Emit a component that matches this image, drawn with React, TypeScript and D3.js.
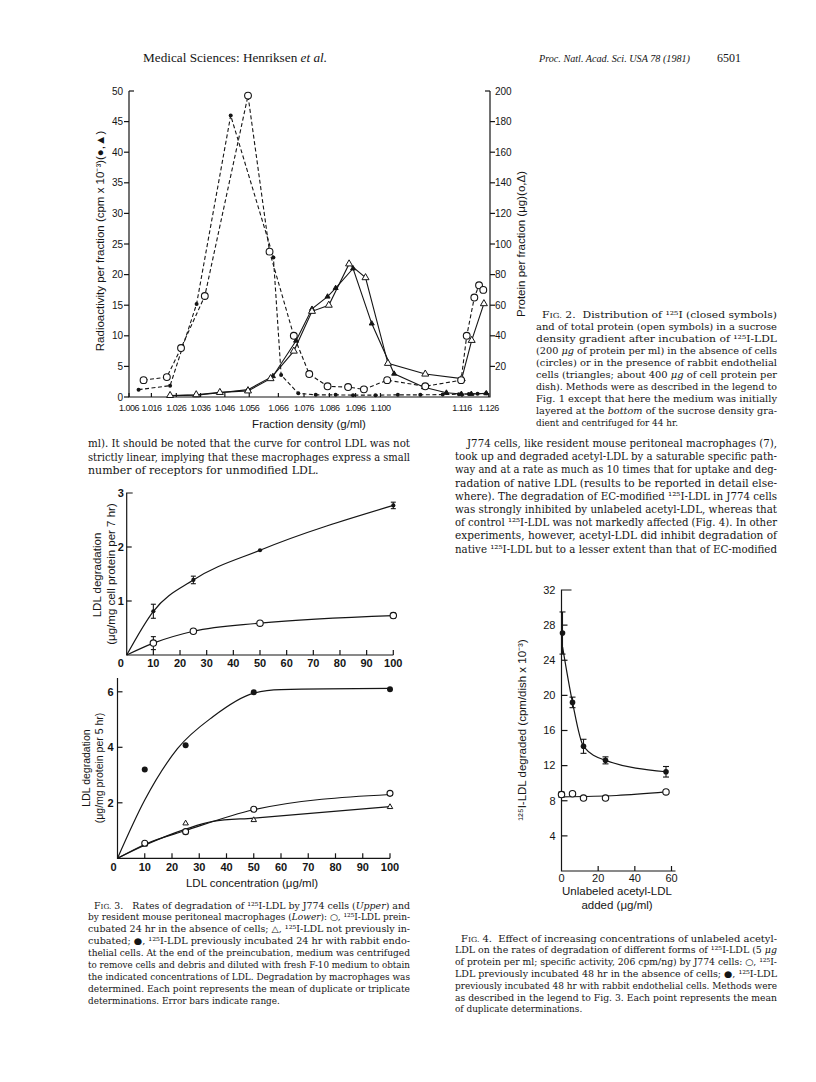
import React from 'react'
import * as d3 from 'd3'

const SANS = 'Liberation Sans, Arial, sans-serif'
const SERIF = 'Liberation Serif, Times New Roman, serif'
const BOOK = 'DejaVu Serif, serif'
const INK = '#151515'

// ---------- Fig. 2 : sucrose density gradient ----------
// x is the fraction position along the gradient, density labels sit at given fractions
const densityLabels = ['1.006', '1.016', '1.026', '1.036', '1.046', '1.056', '1.066', '1.076', '1.086', '1.096', '1.100', '1.116', '1.126']
const densityLabelFrac = [0, 1.8, 3.8, 5.75, 7.7, 9.66, 12.0, 14.06, 16.1, 18.2, 20.2, 26.75, 28.9]
const radioTicks = [0, 5, 10, 15, 20, 25, 30, 35, 40, 45, 50]
const proteinTicks = [20, 40, 60, 80, 100, 120, 140, 160, 180, 200]

// no cells (circles)
const ctrlProteinFrac = [1.17, 3.04, 4.18, 6.09, 9.56, 11.29, 13.24, 14.48, 15.95, 17.6, 18.87, 20.74, 23.8, 26.68, 27.13, 27.74, 28.12, 28.46]
const ctrlProtein = [11, 13, 32, 66, 197, 95, 40, 15, 7, 6.5, 5, 11, 7, 11, 40, 65, 73, 70]
const ctrlRadioFrac = [0.77, 3.3, 5.43, 8.17, 11.6, 12.22, 13.6, 15.0, 16.6, 18.0, 19.8, 21.6, 23.4, 25.2, 26.5, 27.3, 28.0, 28.7]
const ctrlRadio = [1.2, 1.85, 15.2, 46, 22.8, 3.6, 0.6, 0.35, 0.35, 0.3, 0.3, 0.35, 0.35, 0.4, 0.45, 0.5, 0.55, 0.6]
// with endothelial cells (triangles)
const ecRadioFrac = [3.3, 5.4, 7.3, 9.56, 11.56, 13.42, 14.7, 15.95, 16.6, 18.0, 19.5, 21.3, 23.7, 25.5, 26.7, 27.5, 28.7]
const ecRadio = [0.2, 0.3, 0.7, 1.2, 3.4, 9.2, 14.4, 16.4, 17.8, 21.0, 12.0, 3.8, 1.6, 0.7, 0.5, 0.5, 0.6]
const ecProteinFrac = [3.3, 5.4, 7.3, 9.56, 11.37, 13.24, 14.7, 16.05, 17.68, 19.0, 20.8, 23.8, 26.73, 27.53, 28.51]
const ecProtein = [1, 1.5, 3, 4, 12, 30, 56, 60, 87, 78, 22, 15, 12, 37, 61]

// ---------- Fig. 3 ----------
const concTicks = [0, 10, 20, 30, 40, 50, 60, 70, 80, 90, 100]
const upperYTicks = [1, 2, 3]
const lowerYTicks = [2, 4, 6]
const upperConc = [10, 25, 50, 100]
const upperEC = [0.81, 1.39, 1.94, 2.77]
const upperECErr = [0.13, 0.07, 0, 0.06]
const upperCtrl = [0.22, 0.44, 0.59, 0.73]
const upperCtrlErr = [0.12, 0.04, 0, 0.05]
const lowerConc = [10, 25, 50, 100]
const lowerEC = [3.2, 4.07, 5.98, 6.09]
const lowerCtrl = [0.54, 0.96, 1.77, 2.34]
const lowerFresh = [0.5, 1.26, 1.38, 1.85]
// fitted curves as drawn in the figure
const lowerECFitX = [0, 10, 22, 35, 50, 60, 100]
const lowerECFitY = [0, 2.1, 3.95, 5.1, 5.95, 6.08, 6.12]
const lowerCtrlFitX = [0, 10, 25, 50, 100]
const lowerCtrlFitY = [0, 0.5, 1.0, 1.75, 2.3]
const lowerFreshFitX = [0, 10, 25, 35, 50, 100]
const lowerFreshFitY = [0, 0.47, 1.05, 1.33, 1.45, 1.86]

// ---------- Fig. 4 ----------
const acetylTicks = [0, 20, 40, 60]
const degradedTicks = [4, 8, 12, 16, 20, 24, 28, 32]
const acetylConc = [0, 6, 12, 24, 57]
const fig4EC = [27.1, 19.2, 14.2, 12.6, 11.3]
const fig4ECErr = [2.4, 0.6, 0.8, 0.4, 0.6]
const fig4Ctrl = [8.7, 8.8, 8.3, 8.3, 9.0]
const fig4CtrlErr = [0.3, 0, 0, 0, 0]
const fig4ECFitX = [0.6, 6, 12, 24, 57]
const fig4ECFitY = [25.5, 19.2, 14.2, 12.6, 11.3]
const fig4CtrlFitX = [0, 30, 57]
const fig4CtrlFitY = [8.45, 8.6, 9.0]

// ---------- text ----------
const fig2Caption = [
  'FIG. 2.  Distribution of ¹²⁵I (closed symbols)',
  'and of total protein (open symbols) in a sucrose',
  'density gradient after incubation of ¹²⁵I-LDL',
  '(200 _μg_ of protein per ml) in the absence of cells',
  '(circles) or in the presence of rabbit endothelial',
  'cells (triangles; about 400 _μg_ of cell protein per',
  'dish). Methods were as described in the legend to',
  'Fig. 1 except that here the medium was initially',
  'layered at the _bottom_ of the sucrose density gra-',
  'dient and centrifuged for 44 hr.',
]
const leftBody = [
  'ml). It should be noted that the curve for control LDL was not',
  'strictly linear, implying that these macrophages express a small',
  'number of receptors for unmodified LDL.',
]
const rightBody = [
  'J774 cells, like resident mouse peritoneal macrophages (7),',
  'took up and degraded acetyl-LDL by a saturable specific path-',
  'way and at a rate as much as 10 times that for uptake and deg-',
  'radation of native LDL (results to be reported in detail else-',
  'where). The degradation of EC-modified ¹²⁵I-LDL in J774 cells',
  'was strongly inhibited by unlabeled acetyl-LDL, whereas that',
  'of control ¹²⁵I-LDL was not markedly affected (Fig. 4). In other',
  'experiments, however, acetyl-LDL did inhibit degradation of',
  'native ¹²⁵I-LDL but to a lesser extent than that of EC-modified',
]
const fig3Caption = [
  'FIG. 3.   Rates of degradation of ¹²⁵I-LDL by J774 cells (_Upper_) and',
  'by resident mouse peritoneal macrophages (_Lower_): ○, ¹²⁵I-LDL prein-',
  'cubated 24 hr in the absence of cells; △, ¹²⁵I-LDL not previously in-',
  'cubated; ●, ¹²⁵I-LDL previously incubated 24 hr with rabbit endo-',
  'thelial cells. At the end of the preincubation, medium was centrifuged',
  'to remove cells and debris and diluted with fresh F-10 medium to obtain',
  'the indicated concentrations of LDL. Degradation by macrophages was',
  'determined. Each point represents the mean of duplicate or triplicate',
  'determinations. Error bars indicate range.',
]
const fig4Caption = [
  'FIG. 4.  Effect of increasing concentrations of unlabeled acetyl-',
  'LDL on the rates of degradation of different forms of ¹²⁵I-LDL (5 _μg_',
  'of protein per ml; specific activity, 206 cpm/ng) by J774 cells: ○, ¹²⁵I-',
  'LDL previously incubated 48 hr in the absence of cells; ●, ¹²⁵I-LDL',
  'previously incubated 48 hr with rabbit endothelial cells. Methods were',
  'as described in the legend to Fig. 3. Each point represents the mean',
  'of duplicate determinations.',
]

type Seg = { t: string; it?: boolean; sc?: boolean }
const parseLine = (s: string): Seg[] => {
  const out: Seg[] = []
  let rest = s
  if (rest.startsWith('FIG.')) {
    out.push({ t: 'F' })
    out.push({ t: 'IG.', sc: true })
    rest = rest.slice(4)
  }
  rest.split('_').forEach((p, i) => {
    if (p) out.push({ t: p, it: i % 2 === 1 })
  })
  return out
}

const TextBlock = ({ lines, x, y, width, lh, size, indent = 0, justifyLast = false }: {
  lines: string[]; x: number; y: number; width: number; lh: number; size: number; indent?: number; justifyLast?: boolean
}) => (
  <g fontFamily={BOOK} fontSize={size} fill={INK}>
    {lines.map((ln, i) => {
      const last = i === lines.length - 1 && !justifyLast
      const ind = i === 0 ? indent : 0
      return (
        <text key={i} x={x + ind} y={y + i * lh} textLength={last ? undefined : width - ind}
          lengthAdjust="spacingAndGlyphs" style={{ whiteSpace: 'pre' }}>
          {parseLine(ln).map((s, j) => (
            <tspan key={j} fontStyle={s.it ? 'italic' : undefined} fontSize={s.sc ? size * 0.78 : undefined}>{s.t}</tspan>
          ))}
        </text>
      )
    })}
  </g>
)

// markers
const Dot = ({ x, y, r = 2.2 }: { x: number; y: number; r?: number }) => <circle cx={x} cy={y} r={r} fill={INK} stroke="none" />
const Ring = ({ x, y, r = 3.5 }: { x: number; y: number; r?: number }) => <circle cx={x} cy={y} r={r} fill="#fff" stroke={INK} strokeWidth={1.1} />
const Tri = ({ x, y, s = 6, filled = false }: { x: number; y: number; s?: number; filled?: boolean }) => (
  <path d={`M${x},${y - s * 0.58}L${x - s / 2},${y + s * 0.29}L${x + s / 2},${y + s * 0.29}Z`}
    fill={filled ? INK : '#fff'} stroke={INK} strokeWidth={1} />
)
const ErrBar = ({ x, y0, y1, w = 6 }: { x: number; y0: number; y1: number; w?: number }) => (
  <g stroke={INK} strokeWidth={1.1}>
    <line x1={x} x2={x} y1={y0} y2={y1} />
    <line x1={x - w / 2} x2={x + w / 2} y1={y0} y2={y0} />
    <line x1={x - w / 2} x2={x + w / 2} y1={y1} y2={y1} />
  </g>
)

const Header = () => (
  <g fontFamily={SERIF} fontSize={11.5} fill={INK} style={{ whiteSpace: 'pre' }}>
    <text x={143} y={62} textLength={184} lengthAdjust="spacingAndGlyphs">
      Medical Sciences:  Henriksen <tspan fontStyle="italic">et al.</tspan>
    </text>
    <text x={539} y={62} fontSize={10.5} fontStyle="italic" textLength={151} lengthAdjust="spacingAndGlyphs">Proc. Natl. Acad. Sci. USA 78 (1981)</text>
    <text x={717} y={62} textLength={24} lengthAdjust="spacingAndGlyphs">6501</text>
  </g>
)

function Fig2() {
  const left = 129, right = 490, top = 91, bottom = 397
  const x = d3.scaleLinear().domain([0, 29]).range([left, right])
  const yL = d3.scaleLinear().domain([0, 50]).range([bottom, top])
  const yR = d3.scaleLinear().domain([0, 200]).range([bottom, top])
  const path = (xs: number[], ys: number[], y: d3.ScaleLinear<number, number>) =>
    d3.line<number>().x((_, i) => x(xs[i])).y((d) => y(d))(ys) || ''
  return (
    <g>
      <g stroke={INK} strokeWidth={1.2} fill="none">
        <path d={`M${left},${top}V${bottom}H${right}V${top}`} />
        {radioTicks.map((t) => (t === 50
          ? <line key={t} x1={left} x2={left + 5} y1={yL(t)} y2={yL(t)} />
          : <line key={t} x1={left - 5} x2={left} y1={yL(t)} y2={yL(t)} />))}
        {proteinTicks.map((t) => (t === 200
          ? <line key={t} x1={right - 5} x2={right} y1={yR(t)} y2={yR(t)} />
          : <line key={t} x1={right} x2={right + 5} y1={yR(t)} y2={yR(t)} />))}
        {densityLabelFrac.map((f, i) => <line key={i} x1={x(f)} x2={x(f)} y1={bottom} y2={bottom - 4} />)}
      </g>
      <g fill="none" stroke={INK} strokeWidth={1.1}>
        <path d={path(ctrlRadioFrac, ctrlRadio, yL)} strokeDasharray="4 2.5" />
        <path d={path(ctrlProteinFrac, ctrlProtein, yR)} strokeDasharray="4 2.5" />
        <path d={path(ecRadioFrac, ecRadio, yL)} />
        <path d={path(ecProteinFrac, ecProtein, yR)} />
      </g>
      {ctrlRadio.map((v, i) => <Dot key={'cr' + i} x={x(ctrlRadioFrac[i])} y={yL(v)} r={2} />)}
      {ecRadio.map((v, i) => <Tri key={'er' + i} x={x(ecRadioFrac[i])} y={yL(v)} s={5} filled />)}
      {ecProtein.map((v, i) => <Tri key={'ep' + i} x={x(ecProteinFrac[i])} y={yR(v)} s={7} />)}
      {ctrlProtein.map((v, i) => <Ring key={'cp' + i} x={x(ctrlProteinFrac[i])} y={yR(v)} r={3.4} />)}
      <g fontFamily={SANS} fontSize={10} fill={INK}>
        {radioTicks.map((t) => <text key={t} x={left - 6} y={yL(t)} dy="0.35em" textAnchor="end">{t}</text>)}
        {proteinTicks.map((t) => <text key={t} x={right + 5} y={yR(t)} dy="0.35em">{t}</text>)}
        {densityLabels.map((l, i) => (
          <text key={l} x={x(densityLabelFrac[i])} y={410.5} textAnchor="middle" fontSize={9} letterSpacing={-0.5}>{l}</text>
        ))}
        <text x={309} y={427.5} textAnchor="middle" fontSize={11.5}>Fraction density (g/ml)</text>
        <text transform="translate(100,241) rotate(-90)" textAnchor="middle" dy="0.35em" fontSize={11.5}>
          Radioactivity per fraction (cpm x 10⁻³)(●,▲)
        </text>
        <text transform="translate(521,244) rotate(-90)" textAnchor="middle" dy="0.35em" fontSize={11.5}>
          Protein per fraction (μg)(o,Δ)
        </text>
      </g>
    </g>
  )
}

function Fig3() {
  const xU = d3.scaleLinear().domain([0, 100]).range([126.7, 393.3])
  const yU = d3.scaleLinear().domain([0, 3]).range([655, 493])
  const xL = d3.scaleLinear().domain([0, 100]).range([117.5, 390])
  const yLo = d3.scaleLinear().domain([0, 6]).range([858.3, 691.8])
  const curve = (xs: number[], ys: number[], x: any, y: any) =>
    d3.line<number>().x((_, i) => x(xs[i])).y((d) => y(d)).curve(d3.curveMonotoneX)(ys) || ''
  return (
    <g>
      {/* upper panel */}
      <g stroke={INK} strokeWidth={1.2} fill="none">
        <path d={`M${xU(0) + 6},${yU(3)}H${xU(0)}V${yU(0)}H${xU(100)}`} />
        {upperYTicks.slice(0, 2).map((t) => <line key={t} x1={xU(0)} x2={xU(0) + 5} y1={yU(t)} y2={yU(t)} />)}
        {concTicks.slice(1).map((t) => <line key={t} x1={xU(t)} x2={xU(t)} y1={yU(0)} y2={yU(0) - 5} />)}
        <path d={curve([0, ...upperConc], [0, ...upperEC], xU, yU)} />
        <path d={curve([0, ...upperConc], [0, ...upperCtrl], xU, yU)} />
      </g>
      {upperConc.map((c, i) => upperECErr[i] > 0 &&
        <ErrBar key={'ue' + i} x={xU(c)} y0={yU(upperEC[i] + upperECErr[i])} y1={yU(upperEC[i] - upperECErr[i])} w={5} />)}
      {upperConc.map((c, i) => upperCtrlErr[i] > 0 &&
        <ErrBar key={'uc' + i} x={xU(c)} y0={yU(upperCtrl[i] + upperCtrlErr[i])} y1={yU(upperCtrl[i] - upperCtrlErr[i])} w={5} />)}
      {upperConc.map((c, i) => <Dot key={'ud' + i} x={xU(c)} y={yU(upperEC[i])} r={2.1} />)}
      {upperConc.map((c, i) => <Ring key={'ur' + i} x={xU(c)} y={yU(upperCtrl[i])} r={3.2} />)}
      <g fontFamily={SANS} fontSize={11} fontWeight="bold" fill={INK}>
        {upperYTicks.map((t) => <text key={t} x={xU(0) - 6} y={yU(t)} dy="0.35em" textAnchor="middle">{t}</text>)}
        {concTicks.map((t) => <text key={t} x={t === 0 ? xU(0) - 6 : xU(t)} y={667} textAnchor="middle">{t}</text>)}
        <text transform="translate(97,575) rotate(-90)" textAnchor="middle" dy="0.35em" fontWeight="normal" fontSize={11.5}>LDL degradation</text>
        <text transform="translate(111,574) rotate(-90)" textAnchor="middle" dy="0.35em" fontWeight="normal" fontSize={11.5}>(μg/mg cell protein per 7 hr)</text>
      </g>

      {/* lower panel */}
      <g stroke={INK} strokeWidth={1.2} fill="none">
        <path d={`M${xL(0)},678V${yLo(0)}H${xL(100)}`} />
        {lowerYTicks.map((t) => <line key={t} x1={xL(0)} x2={xL(0) + 5} y1={yLo(t)} y2={yLo(t)} />)}
        {concTicks.slice(1).map((t) => <line key={t} x1={xL(t)} x2={xL(t)} y1={yLo(0)} y2={yLo(0) - 5} />)}
        <path d={curve(lowerECFitX, lowerECFitY, xL, yLo)} />
        <path d={curve(lowerCtrlFitX, lowerCtrlFitY, xL, yLo)} />
        <path d={curve(lowerFreshFitX, lowerFreshFitY, xL, yLo)} />
      </g>
      {lowerConc.map((c, i) => <Dot key={'ld' + i} x={xL(c)} y={yLo(lowerEC[i])} r={3} />)}
      {lowerConc.map((c, i) => <Tri key={'lt' + i} x={xL(c)} y={yLo(lowerFresh[i])} s={5.5} />)}
      {lowerConc.map((c, i) => <Ring key={'lr' + i} x={xL(c)} y={yLo(lowerCtrl[i])} r={3} />)}
      <g fontFamily={SANS} fontSize={11} fontWeight="bold" fill={INK}>
        {lowerYTicks.map((t) => <text key={t} x={xL(0) - 7} y={yLo(t)} dy="0.35em" textAnchor="middle">{t}</text>)}
        {concTicks.map((t) => <text key={t} x={t === 0 ? xL(0) - 4 : xL(t)} y={871} textAnchor="middle">{t}</text>)}
        <text x={252} y={887} textAnchor="middle" fontSize={11.5} fontWeight="normal">LDL concentration (μg/ml)</text>
        <text transform="translate(86,768) rotate(-90)" textAnchor="middle" dy="0.35em" fontWeight="normal" fontSize={10.5}>LDL degradation</text>
        <text transform="translate(99,768) rotate(-90)" textAnchor="middle" dy="0.35em" fontWeight="normal" fontSize={10.5}>(μg/mg protein per 5 hr)</text>
      </g>
    </g>
  )
}

function Fig4() {
  const x = d3.scaleLinear().domain([0, 60]).range([561.5, 671.5])
  const y = d3.scaleLinear().domain([0, 32]).range([871, 590])
  const curve = (xs: number[], ys: number[]) =>
    d3.line<number>().x((_, i) => x(xs[i])).y((d) => y(d)).curve(d3.curveMonotoneX)(ys) || ''
  return (
    <g>
      <g stroke={INK} strokeWidth={1.2} fill="none">
        <path d={`M${x(0) + 10},${y(32)}H${x(0)}V${y(0)}H${x(60) + 4}`} />
        {degradedTicks.slice(0, -1).map((t) => <line key={t} x1={x(0)} x2={x(0) + 6} y1={y(t)} y2={y(t)} />)}
        {acetylTicks.slice(1).map((t) => <line key={t} x1={x(t)} x2={x(t)} y1={y(0)} y2={y(0) - 5} />)}
        <path d={curve(fig4ECFitX, fig4ECFitY)} />
        <path d={curve(fig4CtrlFitX, fig4CtrlFitY)} />
      </g>
      {acetylConc.map((c, i) => fig4ECErr[i] > 0 &&
        <ErrBar key={'fe' + i} x={x(c) + (i === 0 ? 1 : 0)} y0={y(fig4EC[i] + fig4ECErr[i])} y1={y(fig4EC[i] - fig4ECErr[i])} w={6} />)}
      {acetylConc.map((c, i) => fig4CtrlErr[i] > 0 &&
        <ErrBar key={'fc' + i} x={x(c)} y0={y(fig4Ctrl[i] + fig4CtrlErr[i])} y1={y(fig4Ctrl[i] - fig4CtrlErr[i])} w={6} />)}
      {acetylConc.map((c, i) => <Dot key={'fd' + i} x={x(c) + (i === 0 ? 1 : 0)} y={y(fig4EC[i])} r={2.8} />)}
      {acetylConc.map((c, i) => <Ring key={'fr' + i} x={x(c)} y={y(fig4Ctrl[i])} r={3.2} />)}
      <g fontFamily={SANS} fontSize={11} fill={INK}>
        {degradedTicks.map((t) => <text key={t} x={x(0) - 6} y={y(t)} dy="0.35em" textAnchor="end">{t}</text>)}
        {acetylTicks.map((t) => <text key={t} x={x(t)} y={882} textAnchor="middle">{t}</text>)}
        <text x={617} y={895} textAnchor="middle" fontSize={11.5}>Unlabeled acetyl-LDL</text>
        <text x={617} y={909} textAnchor="middle" fontSize={11.5}>added (μg/ml)</text>
        <text transform="translate(522,730) rotate(-90)" textAnchor="middle" dy="0.35em" fontSize={11.5}>
          ¹²⁵I-LDL degraded (cpm/dish x 10⁻³)
        </text>
      </g>
    </g>
  )
}

export default function App() {
  return (
    <div style={{ position: 'absolute', left: 0, top: 0, width: 816, height: 1082, background: '#fff' }}>
      <svg width={816} height={1082} viewBox="0 0 816 1082" style={{ display: 'block' }}>
        <rect width={816} height={1082} fill="#fff" />
        <Header />
        <Fig2 />
        <TextBlock lines={fig2Caption} x={536} y={317.5} width={241} lh={12.1} size={8.9} indent={6} />
        <TextBlock lines={leftBody} x={88} y={447} width={322} lh={13.6} size={11} />
        <TextBlock lines={rightBody} x={455} y={447} width={322} lh={13.2} size={11} indent={12} justifyLast />
        <Fig3 />
        <Fig4 />
        <TextBlock lines={fig3Caption} x={88} y={908.5} width={322} lh={11.9} size={8.9} indent={6} />
        <TextBlock lines={fig4Caption} x={455} y={941.5} width={322} lh={11.8} size={8.9} indent={6} />
      </svg>
    </div>
  )
}
